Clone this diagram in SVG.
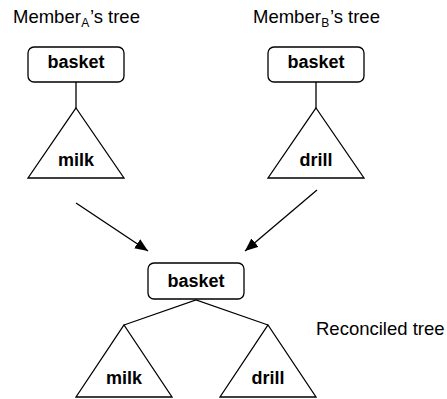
<svg xmlns="http://www.w3.org/2000/svg" width="447" height="399" viewBox="0 0 447 399">
<style>
.box{fill:#fff;stroke:#000;stroke-width:1.3}
.tri{fill:#fff;stroke:#000;stroke-width:1.3}
.lbl{font-family:"Liberation Sans",Arial,sans-serif;font-size:18px;font-weight:bold;text-anchor:middle;fill:#000}
.ttl{font-family:"Liberation Sans",Arial,sans-serif;font-size:18.5px;fill:#000}
.sub{font-size:12px}
.edge{stroke:#000;stroke-width:1.3;fill:none}
</style>
<defs>
<marker id="arr" markerUnits="userSpaceOnUse" markerWidth="13" markerHeight="11" refX="13" refY="5.5" orient="auto">
<path d="M0,0 L13,5.5 L0,11 z" fill="#000"/>
</marker>
</defs>
<text class="ttl" x="13" y="23">Member<tspan class="sub" dy="4" dx="0.5">A</tspan><tspan dy="-4" dx="0.5">’s tree</tspan></text>
<text class="ttl" x="253" y="23">Member<tspan class="sub" dy="4" dx="0.5">B</tspan><tspan dy="-4" dx="0.5">’s tree</tspan></text>
<text class="ttl" x="316" y="335">Reconciled tree</text>
<g id="connectors">
<line class="edge" x1="76" y1="82" x2="76" y2="108"/>
<line class="edge" x1="316" y1="82" x2="316" y2="108"/>
<line class="edge" x1="76" y1="203" x2="148" y2="251" marker-end="url(#arr)"/>
<line class="edge" x1="317" y1="190" x2="245" y2="251" marker-end="url(#arr)"/>
<polyline class="edge" points="124,325 196,300 268,325"/>
</g>
<g id="basketA">
<rect class="box" x="28" y="47" width="96" height="35" rx="6"/>
<text class="lbl" x="76" y="68">basket</text>
</g>
<g id="milkA">
<polygon class="tri" points="76,108 124,178 28,178"/>
<text class="lbl" x="76" y="166">milk</text>
</g>
<g id="basketB">
<rect class="box" x="268" y="47" width="96" height="35" rx="6"/>
<text class="lbl" x="316" y="68">basket</text>
</g>
<g id="drillB">
<polygon class="tri" points="316,108 364,178 268,178"/>
<text class="lbl" x="316" y="166">drill</text>
</g>
<g id="basketR">
<rect class="box" x="148" y="263" width="96" height="36" rx="6"/>
<text class="lbl" x="196" y="287">basket</text>
</g>
<g id="milkR">
<polygon class="tri" points="124,325 172,397 76,397"/>
<text class="lbl" x="124" y="384">milk</text>
</g>
<g id="drillR">
<polygon class="tri" points="268,325 316,397 220,397"/>
<text class="lbl" x="268" y="384">drill</text>
</g>
</svg>
